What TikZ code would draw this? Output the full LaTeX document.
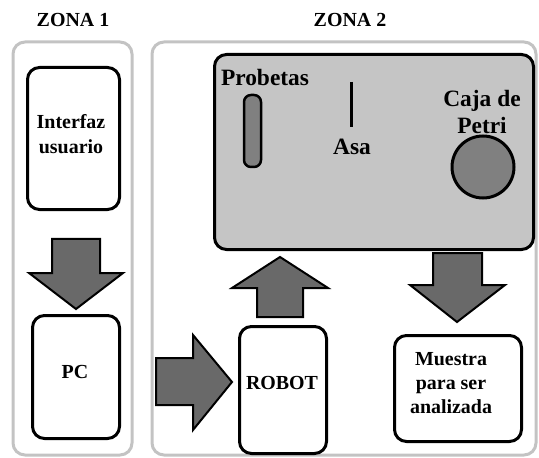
\documentclass[tikz,border=0pt]{standalone}
\usepackage{fontspec}
\setmainfont{Liberation Serif}
\definecolor{zonegray}{RGB}{195,195,195}
\definecolor{panelgray}{RGB}{197,197,197}
\definecolor{arrowgray}{RGB}{105,105,105}
\definecolor{itemgray}{RGB}{128,128,128}
\begin{document}
\begin{tikzpicture}[x=1bp,y=-1bp,
 zone/.style={draw=zonegray, line width=3bp, rounded corners=12bp},
 box/.style={draw=black, line width=3bp, rounded corners=12bp, fill=white, anchor=north west, inner sep=0},
 lbl/.style={font=\bfseries\fontsize{20}{24.5}\selectfont, align=center, inner sep=0},
 plbl/.style={lbl, font=\bfseries\fontsize{23.5}{27}\selectfont},
 blk/.style={draw=black, line width=2bp, fill=arrowgray, line join=miter}]
\useasboundingbox (0,0) rectangle (539,458);
% zones
\draw[zone] (13,42) rectangle (132,455);
\draw[zone] (152,42) rectangle (536,455);
\node[lbl] (z1) at (73,20) {ZONA 1};
\node[lbl] (z2) at (350,20) {ZONA 2};
% boxes
\node[box, minimum width=92bp, minimum height=142bp] (interfaz) at (26,66) {};
\node[lbl] (tinterfaz) at (71,134) {Interfaz\\usuario};
\node[box, minimum width=87bp, minimum height=123bp] (pc) at (31,314) {};
\node[lbl] (tpc) at (75,372) {PC};
\node[box, minimum width=87bp, minimum height=127bp] (robot) at (238,325) {};
\node[lbl] (trobot) at (282,383) {ROBOT};
\node[box, minimum width=127bp, minimum height=106bp] (muestra) at (393,334) {};
\node[lbl] (tmuestra) at (451,383) {Muestra\\para ser\\analizada};
% panel
\node[box, fill=panelgray, minimum width=319bp, minimum height=195bp] (panel) at (213,53) {};
\node[plbl] (tprob) at (265,77) {Probetas};
\draw[line width=2.5bp, fill=itemgray, rounded corners=7bp] (244,95) rectangle (261,167);
\draw[line width=3bp] (351,82) -- (351,127);
\node[plbl] (tasa) at (352,147) {Asa};
\node[plbl] (tcaja) at (482,112) {Caja de\\Petri};
\draw[line width=3bp, fill=itemgray] (483,167) circle[radius=31];
% block arrows
\draw[blk] (52,239) -- (100,239) -- (100,273) -- (123,273) -- (76,309) -- (29,273) -- (52,273) -- cycle;
\draw[blk] (257,317) -- (303,317) -- (303,288) -- (328,288) -- (280,257) -- (232,288) -- (257,288) -- cycle;
\draw[blk] (433,253) -- (482,253) -- (482,285) -- (505,285) -- (457,322) -- (410,285) -- (433,285) -- cycle;
\draw[blk] (156,358) -- (193,358) -- (193,335) -- (232,382) -- (193,430) -- (193,405) -- (156,405) -- cycle;
\end{tikzpicture}
\end{document}
